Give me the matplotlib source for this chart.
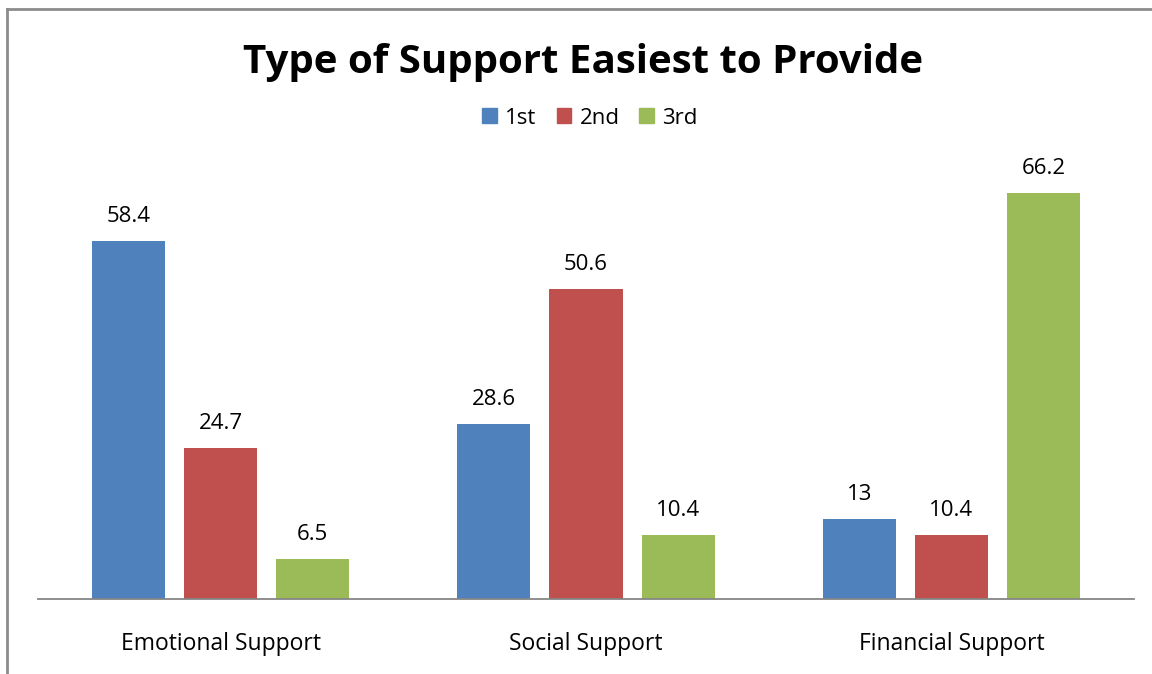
import numpy as np
import matplotlib.pyplot as plt
from matplotlib.lines import Line2D
from matplotlib.patches import Patch

categories = ["Emotional Support", "Social Support", "Financial Support"]
series_names = ["1st", "2nd", "3rd"]
first = [58.4, 28.6, 13]
second = [24.7, 50.6, 10.4]
third = [6.5, 10.4, 66.2]

colors = ["#4F81BD", "#C0504D", "#9BBB59"]
plt.rcParams["font.family"] = ["Open Sans", "DejaVu Sans"]

W, H = 1152, 674
fig = plt.figure(figsize=(W / 100, H / 100), dpi=100)

# plot area in pixel terms: x 38..1134, baseline at y=599
ax = fig.add_axes([38 / W, 1 - 599 / H, (1134 - 38) / W, (599 - 150) / H])
x = np.arange(len(categories))
width = 0.2
offsets = [-0.252, 0, 0.252]

for vals, off, c, name in zip([first, second, third], offsets, colors, series_names):
    bars = ax.bar(x + off, vals, width, color=c, label=name)
    for b, v in zip(bars, vals):
        ax.annotate(f"{v:g}", (b.get_x() + b.get_width() / 2, v),
                    xytext=(0, 10), textcoords="offset points",
                    ha="center", va="bottom", fontsize=16, color="black")

ax.set_xlim(-0.5, 2.5)
ax.set_ylim(0, (599 - 150) / 6.13)
for s in ["top", "right", "left"]:
    ax.spines[s].set_visible(False)
ax.spines["bottom"].set_color("#868686")
ax.spines["bottom"].set_linewidth(1.3)
ax.set_yticks([])
ax.set_xticks(x)
ax.set_xticklabels(categories, fontsize=16.5)
ax.tick_params(axis="x", length=0, pad=24)

fig.text(583 / W, 1 - 62 / H, "Type of Support Easiest to Provide",
         ha="center", va="center", fontsize=29, fontweight="bold")

handles = [Patch(color=c) for c in colors]
fig.legend(handles, series_names, loc="center", bbox_to_anchor=(590 / W, 1 - 118 / H),
           ncol=3, frameon=False, fontsize=16, handlelength=0.67, handleheight=0.67,
           handletextpad=0.36, columnspacing=0.9)

# chart border (left and top edges)
fig.add_artist(Line2D([7 / W, 7 / W], [0, 1 - 9 / H], color="#8C8C8C", lw=2,
                      transform=fig.transFigure))
fig.add_artist(Line2D([7 / W, 1], [1 - 9 / H, 1 - 9 / H], color="#8C8C8C", lw=2,
                      transform=fig.transFigure))

fig.savefig("out.png", dpi=100)
